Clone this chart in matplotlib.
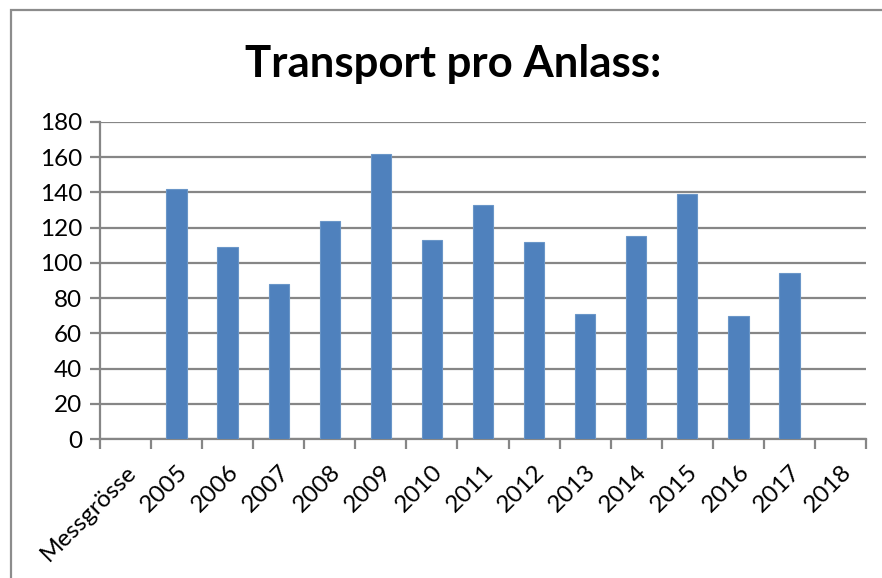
import numpy as np
import matplotlib
matplotlib.use('Agg')
import matplotlib.pyplot as plt
from matplotlib.patches import Rectangle

# Data
categories = ['Messgrösse', '2005', '2006', '2007', '2008', '2009', '2010',
              '2011', '2012', '2013', '2014', '2015', '2016', '2017', '2018']
values = [np.nan, 142, 109, 88, 124, 162, 113, 133, 112, 71, 115, 139, 70, 94, np.nan]
yticks = [0, 20, 40, 60, 80, 100, 120, 140, 160, 180]
title = 'Transport pro Anlass:'

plt.rcParams['font.family'] = ['Lato', 'DejaVu Sans']

fig = plt.figure(figsize=(8.82, 5.78), dpi=100)
ax = fig.add_axes([100 / 882, 1 - 439 / 578, 766 / 882, 317 / 578])

grid_col = '#868686'
x = np.arange(len(categories))
ax.bar(x, values, width=0.4, color='#4F81BD', edgecolor='#6A96C8', linewidth=0.8, zorder=3)

ax.set_xlim(-0.5, len(categories) - 0.5)
ax.set_ylim(0, 180)
ax.set_yticks(yticks)
ax.yaxis.grid(True, color=grid_col, linewidth=1.6, zorder=0)

# category ticks sit between the bars
ax.set_xticks(x)
ax.set_xticklabels(categories, rotation=45, ha='right', va='top',
                   rotation_mode='anchor', fontsize=17.5)
ax.tick_params(axis='x', which='major', length=0, pad=16)
ax.set_xticks(np.arange(-0.5, len(categories)), minor=True)
ax.tick_params(axis='x', which='minor', length=7, width=1.6, color=grid_col)
ax.tick_params(axis='y', length=7, width=1.6, color=grid_col, labelsize=17.5, pad=6)

for side in ['top', 'right']:
    ax.spines[side].set_visible(False)
for side in ['left', 'bottom']:
    ax.spines[side].set_color(grid_col)
    ax.spines[side].set_linewidth(1.6)

fig.text(453 / 882, 1 - 77 / 578, title, ha='center', va='baseline',
         fontsize=31.5, fontweight='bold')

# outer chart border
fig.patches.append(Rectangle((11 / 882, -0.1), 1.2, 1.1 - 10 / 578,
                             transform=fig.transFigure, fill=False,
                             edgecolor='#8C8C8C', linewidth=1.6))

fig.savefig('out.png', dpi=100)
